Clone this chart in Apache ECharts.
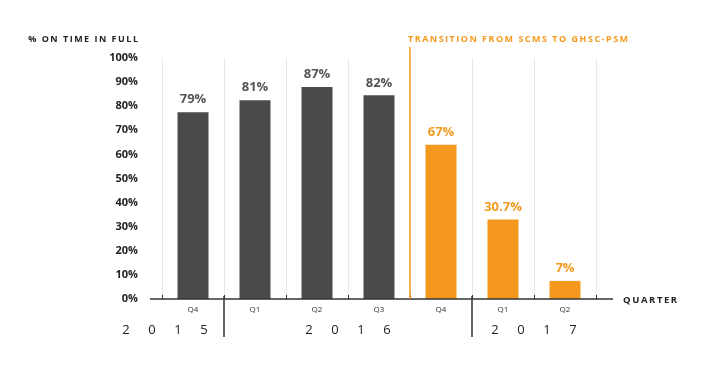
<!DOCTYPE html>
<html><head><meta charset="utf-8">
<script src="https://cdn.jsdelivr.net/npm/echarts@6/dist/echarts.min.js"></script>
<style>html,body{margin:0;padding:0;background:#fff}#c{width:720px;height:387px}</style>
</head><body><div id="c"></div>
<script>
const quarters = ['Q4','Q1','Q2','Q3','Q4','Q1','Q2'];
const barValues = [77.5, 82.5, 88, 84.5, 64, 33, 7.5];
const barLabels = ['79%','81%','87%','82%','67%','30.7%','7%'];
const phase = ['SCMS','SCMS','SCMS','SCMS','GHSC','GHSC','GHSC'];
const years = ['2015','2016','2017'];
const yearStart = [0, 1, 5];
const yearEnd = [1, 5, 7];
const yTicks = [0, 100, 10];

const FONT = 'Open Sans';
const DARK = '#4b4b4b', ORANGE = '#f4991d';
const spaced = (s) => s.split('').join('\u2009');

const chart = echarts.init(document.getElementById('c'));
chart.setOption({
  animation: false,
  grid: {left: 162, right: 124, top: 58, bottom: 88},
  xAxis: {
    type: 'category', data: quarters,
    axisLine: {show: false},
    axisTick: {show: true, inside: true, length: 4, lineStyle: {color: '#333'}},
    axisLabel: {fontSize: 8, color: '#333', margin: 7, fontFamily: FONT},
    splitLine: {show: true, lineStyle: {color: '#e8e8e8'}}
  },
  yAxis: {
    type: 'value', min: yTicks[0], max: yTicks[1], interval: yTicks[2],
    axisLabel: {formatter: '{value}%', fontSize: 11, fontWeight: 'bold', color: '#222', margin: 24, fontFamily: FONT},
    splitLine: {show: false}, axisLine: {show: false}, axisTick: {show: false}
  },
  series: [{
    type: 'bar', barWidth: '50%',
    data: barValues.map((v, i) => ({
      value: v,
      itemStyle: {color: phase[i] === 'SCMS' ? DARK : ORANGE},
      label: {color: phase[i] === 'SCMS' ? '#555' : ORANGE}
    })),
    label: {show: true, position: 'top', distance: 6, fontSize: 13, fontWeight: 'bold', fontFamily: FONT,
      formatter: p => barLabels[p.dataIndex]}
  }]
});

const y0 = chart.convertToPixel({yAxisIndex: 0}, 0);
const cx = i => chart.convertToPixel({xAxisIndex: 0}, i);
const bw = cx(1) - cx(0);
const boundary = k => cx(0) - bw / 2 + k * bw;
const yearOffset = [-28, 0, 0];

const g = [];
g.push({type: 'line', shape: {x1: boundary(0) - 12, y1: y0, x2: boundary(7) + 17, y2: y0}, style: {stroke: '#333', lineWidth: 1.5}, z: 100});
g.push({type: 'line', shape: {x1: boundary(4), y1: 47, x2: boundary(4), y2: y0}, style: {stroke: ORANGE, lineWidth: 1.5}, z: 100});
[1, 5].forEach(k => g.push({type: 'line', shape: {x1: boundary(k), y1: y0 - 3, x2: boundary(k), y2: y0 + 38}, style: {stroke: '#333', lineWidth: 1.5}, z: 100}));
years.forEach((yr, j) => {
  const c = (boundary(yearStart[j]) + boundary(yearEnd[j])) / 2 + yearOffset[j];
  yr.split('').forEach((ch, m) => {
    g.push({type: 'text', x: c + (m - 1.5) * 26, y: y0 + 31, style: {text: ch, fontSize: 13, fontFamily: FONT, fill: '#222', align: 'center', verticalAlign: 'middle'}, z: 100});
  });
});
g.push({type: 'text', x: 138, y: 39, style: {text: spaced('% ON TIME IN FULL'), fontSize: 9, fontWeight: 'bold', fontFamily: FONT, fill: '#222', align: 'right', verticalAlign: 'middle'}});
g.push({type: 'text', x: boundary(4) - 2, y: 39, style: {text: spaced('TRANSITION FROM SCMS TO GHSC-PSM'), fontSize: 9, fontWeight: 'bold', fontFamily: FONT, fill: ORANGE, align: 'left', verticalAlign: 'middle'}});
g.push({type: 'text', x: 623, y: y0 + 1, style: {text: spaced('QUARTER'), fontSize: 9.5, fontWeight: 'bold', fontFamily: FONT, fill: '#222', align: 'left', verticalAlign: 'middle'}});
chart.setOption({graphic: g});
</script></body></html>
